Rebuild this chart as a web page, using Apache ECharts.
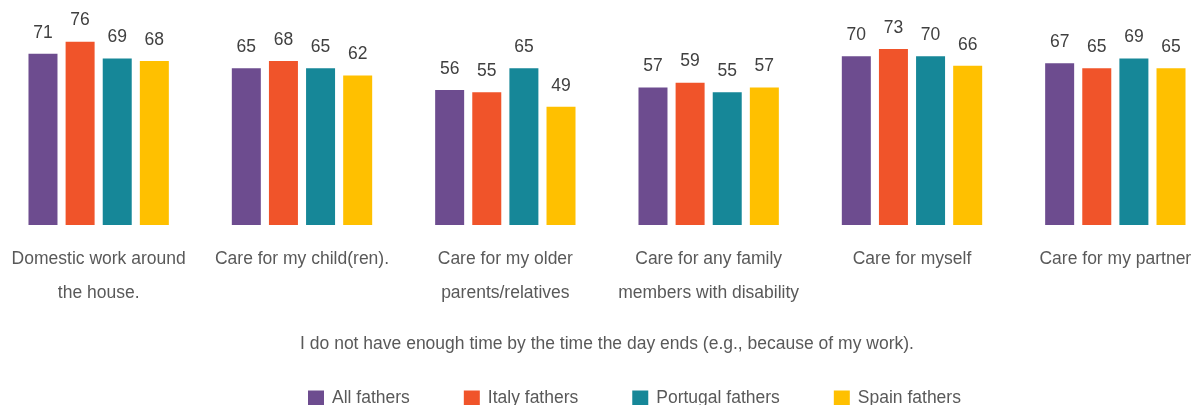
<!DOCTYPE html>
<html>
<head>
<meta charset="utf-8">
<script src="https://cdn.jsdelivr.net/npm/echarts@6/dist/echarts.min.js"></script>
<style>
  html, body { margin: 0; padding: 0; background: #fff; }
  #chart { width: 1193px; height: 405px; }
</style>
</head>
<body>
<div id="chart"></div>
<script>
// Survey items (x categories)
const categories = [
  'Domestic work around\nthe house.',
  'Care for my child(ren).',
  'Care for my older\nparents/relatives',
  'Care for any family\nmembers with disability',
  'Care for myself',
  'Care for my partner'
];

// Percent of fathers per group
const allFathers      = [71, 65, 56, 57, 70, 67];
const italyFathers    = [76, 68, 55, 59, 73, 65];
const portugalFathers = [69, 65, 65, 55, 70, 69];
const spainFathers    = [68, 62, 49, 57, 66, 65];

const seriesNames  = ['All fathers', 'Italy fathers', 'Portugal fathers', 'Spain fathers'];
const seriesValues = [allFathers, italyFathers, portugalFathers, spainFathers];
const seriesColors = ['#6D4C8F', '#F0542A', '#168798', '#FFC000'];

const axisTitle = 'I do not have enough time by the time the day ends (e.g., because of my work).';

const FONT = '"Liberation Sans", Arial, sans-serif';
const FS = 17.5;

const chart = echarts.init(document.getElementById('chart'));

chart.setOption({
  animation: false,
  textStyle: { fontFamily: FONT },
  legend: {
    data: seriesNames,
    left: 303,
    top: 384,
    itemWidth: 16,
    itemHeight: 15,
    itemGap: 54,
    icon: 'rect',
    textStyle: { fontFamily: FONT, fontSize: FS, color: '#595959', padding: [0, 0, 0, 3] }
  },
  grid: {
    left: -3,
    width: 1220,
    top: 32,
    height: 193,
    outerBoundsMode: 'none'
  },
  xAxis: {
    type: 'category',
    data: categories,
    name: axisTitle,
    nameLocation: 'middle',
    nameGap: 110,
    nameTextStyle: { fontFamily: FONT, fontSize: FS, color: '#595959' },
    axisLine: { show: false },
    axisTick: { show: false },
    axisLabel: {
      interval: 0,
      margin: 17,
      fontFamily: FONT,
      fontSize: FS,
      lineHeight: 34,
      color: '#595959'
    }
  },
  yAxis: {
    type: 'value',
    min: 0,
    max: 80,
    show: false,
    splitLine: { show: false }
  },
  series: seriesValues.map((vals, i) => ({
    name: seriesNames[i],
    type: 'bar',
    data: vals,
    barWidth: 29,
    barGap: '28%',
    barCategoryGap: '31%',
    itemStyle: { color: seriesColors[i] },
    label: {
      show: true,
      position: 'top',
      distance: 12,
      fontFamily: FONT,
      fontSize: FS,
      color: '#404040'
    }
  }))
});
</script>
</body>
</html>
